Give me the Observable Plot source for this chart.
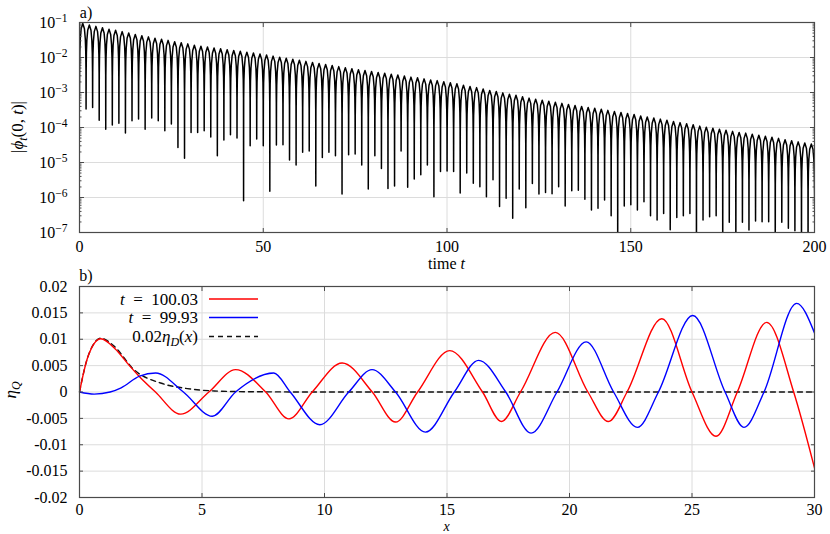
<!DOCTYPE html>
<html><head><meta charset="utf-8">
<script src="https://cdn.jsdelivr.net/npm/d3@7"></script>
<script src="https://cdn.jsdelivr.net/npm/@observablehq/plot@0.6"></script>
<style>
body{margin:0;background:#fff;}
#chart{width:830px;height:534px;position:relative;background:#fff;}
#chart svg{display:block;overflow:visible;}
</style></head><body><div id="chart"></div>
<script>
// ---------- Panel a) data ----------
// times of the zeros (dips) of phi_t(0,t)
const dipTime = [0,1.79,3.57,5.36,7.14,8.93,10.72,12.50,14.29,16.07,17.86,19.65,21.43,23.22,25.00,26.79,28.58,30.36,32.15,33.93,35.72,37.51,39.29,41.08,42.86,44.65,46.44,48.22,50.01,51.79,53.58,55.37,57.15,58.94,60.72,62.51,64.30,66.08,67.87,69.65,71.44,73.23,75.01,76.80,78.58,80.37,82.16,83.94,85.73,87.51,89.30,91.09,92.87,94.66,96.44,98.23,100.02,101.80,103.59,105.37,107.16,108.95,110.73,112.52,114.30,116.09,117.88,119.66,121.45,123.23,125.02,126.81,128.59,130.38,132.16,133.95,135.74,137.52,139.31,141.09,142.88,144.67,146.45,148.24,150.02,151.81,153.60,155.38,157.17,158.95,160.74,162.53,164.31,166.10,167.88,169.67,171.46,173.24,175.03,176.81,178.60,180.39,182.17,183.96,185.74,187.53,189.32,191.10,192.89,194.67,196.46,198.25,200.03];
// log10 of the sampled minimum at each dip
const dipLog10 = [-3.0,
 -3.47,-3.43,-3.79,-4.05,-3.93,-3.88,-4.16,-3.81,-3.76,-4.05,
 -3.73,-3.81,-4.09,-3.90,-4.57,-4.88,-4.14,-4.14,-4.09,-4.27,
 -4.81,-4.36,-4.21,-4.30,-6.09,-4.52,-4.33,-4.52,-5.82,-4.50,
 -4.49,-4.93,-5.07,-4.71,-4.67,-5.67,-4.86,-4.71,-4.81,-5.90,
 -4.78,-4.76,-5.07,-5.76,-4.81,-5.17,-5.74,-5.67,-4.67,-5.71,
 -5.47,-5.35,-5.07,-5.98,-5.26,-5.24,-5.26,-5.87,-5.30,-5.59,
 -5.69,-5.98,-5.49,-6.26,-6.02,-6.59,-5.76,-6.29,-5.60,-5.90,
 -5.86,-5.89,-5.69,-6.24,-5.81,-5.79,-6.05,-6.36,-6.31,-6.07,
 -6.52,-7.50,-6.24,-6.21,-6.36,-6.12,-6.52,-6.64,-6.46,-6.92,
 -6.57,-6.52,-6.46,-7.50,-6.64,-6.55,-6.52,-7.50,-6.71,-7.50,
 -6.71,-6.93,-6.67,-6.69,-6.69,-7.50,-6.71,-6.88,-6.95,-7.50,
 -7.50,-6.0];
// log10 of the top of each arch between two dips
const peakLog10 = [
 -1.03,-1.07,-1.11,-1.15,-1.19,-1.22,-1.26,-1.30,-1.34,-1.38,
 -1.41,-1.45,-1.48,-1.51,-1.55,-1.58,-1.61,-1.65,-1.68,
 -1.70,-1.73,-1.75,-1.78,-1.80,-1.82,-1.85,-1.87,-1.90,
 -1.93,-1.96,-1.99,-2.02,-2.05,-2.08,-2.11,-2.14,-2.17,-2.20,-2.23,-2.26,-2.29,-2.32,
 -2.35,-2.37,-2.40,-2.43,-2.45,-2.48,-2.50,-2.53,-2.56,-2.58,-2.61,-2.64,-2.66,-2.69,
 -2.72,-2.75,-2.79,-2.83,-2.86,-2.90,-2.94,-2.97,-3.01,-3.05,-3.08,-3.12,-3.16,-3.19,
 -3.22,-3.25,-3.28,-3.31,-3.34,-3.37,-3.40,-3.43,-3.45,-3.48,-3.51,-3.54,-3.57,-3.60,
 -3.63,-3.67,-3.70,-3.73,-3.76,-3.79,-3.83,-3.86,-3.89,-3.92,-3.96,-3.99,
 -4.02,-4.05,-4.08,-4.11,-4.14,-4.16,-4.19,-4.22,-4.25,-4.28,-4.31,
 -4.35,-4.38,-4.41,-4.44,-4.47];
// shape of one arch (position within the arch, height relative to its top)
const archFrac  = [0.015,0.05,0.12,0.25,0.5,0.75,0.88,0.95,0.985];
const archShape = [0.047,0.156,0.368,0.707,1,0.707,0.368,0.156,0.047];
const xTicksTop = [0,50,100,150,200];
const yTicksTop = [1e-7,1e-6,1e-5,1e-4,1e-3,1e-2,1e-1];
const yTickLabelsTop = ["10^−7","10^−6","10^−5","10^−4","10^−3","10^−2","10^−1"];

// ---------- Panel b) data ----------
const redX  = [0,0.33,0.87,1.45,2.02,2.43,3.1,4.13,5.28,6.37,7.6,8.55,9.5,10.72,11.95,12.9,13.8,15.11,16.45,17.22,18.0,19.42,20.75,21.59,22.35,23.77,25.0,25.98,26.85,28.05,29.15,30];
const redY  = [0,0.0065,0.0101,0.0082,0.0051,0.003,0,-0.0042,0,0.00425,0,-0.0051,0,0.0055,0,-0.0057,0,0.00785,0,-0.0056,0,0.0113,0,-0.0056,0,0.0139,0,-0.0084,0,0.0132,0,-0.0144];
const blueX = [0,0.6,1.25,1.7,2.45,3.11,4.24,5.42,6.37,7.93,8.6,9.81,10.99,11.94,12.9,14.12,15.3,16.29,17.4,18.43,19.49,20.68,21.8,22.77,23.63,25.03,26.35,27.12,27.94,29.27,30];
const blueY = [0,-0.0004,0,0.0008,0.003,0.0036,0,-0.0046,0,0.0036,0,-0.0062,0,0.00425,0,-0.0076,0,0.006,0,-0.0078,0,0.0095,0,-0.0067,0,0.0145,0,-0.0067,0,0.0168,0.0112];
const blackX = [0,0.33,0.87,1.41,2.23,3.31,4.4,5.5,7,10,30];
const blackY = [0,0.0065,0.0102,0.0087,0.0042,0.0017,0.00065,0.0002,0.00005,0,0];
const xTicksBot = [0,5,10,15,20,25,30];
const yTicksBot = [-0.02,-0.015,-0.01,-0.005,0,0.005,0.01,0.015,0.02];
const legendLabels = [["t","\u2002=\u2002100.03"],["t","\u2002=\u200299.93"],["0.02","η","D","(x)"]];

// ---------- build tables ----------
const phi = [];
for (let k = 0; k < dipTime.length; k++) {
  phi.push({t: dipTime[k], v: 10 ** dipLog10[k]});
  if (k + 1 < dipTime.length) {
    const t0 = dipTime[k], t1 = dipTime[k + 1], A = 10 ** peakLog10[k];
    archFrac.forEach((f, i) => phi.push({t: t0 + f * (t1 - t0), v: A * archShape[i]}));
  }
}
const yMinorTop = [];
yTicksTop.slice(0, -1).forEach(d => { for (let m = 2; m <= 9; m++) yMinorTop.push(d * m); });
const red = redX.map((x, i) => ({x, y: redY[i]}));
const blue = blueX.map((x, i) => ({x, y: blueY[i]}));
const black = blackX.map((x, i) => ({x, y: blackY[i]}));

const FONT = "'Liberation Serif', 'Times New Roman', serif";
const GRID = "#dcdcdc", FRAME = "#4a4a4a";
const blank = () => "";

// ---------- panel a ----------
const topPlot = Plot.plot({
  width: 830, height: 268,
  marginLeft: 79, marginRight: 16, marginTop: 22, marginBottom: 36,
  style: {fontFamily: FONT, fontSize: "16px", color: "#000", overflow: "visible"},
  x: {domain: [0, 200], label: null},
  y: {type: "log", domain: [1e-7, 1e-1], label: null},
  marks: [
    Plot.gridX(xTicksTop, {stroke: GRID, strokeOpacity: 1}),
    Plot.gridY(yTicksTop, {stroke: GRID, strokeOpacity: 1}),
    Plot.line(phi, {x: "t", y: "v", stroke: "#000", strokeWidth: 1.5, clip: true}),
    Plot.axisX(xTicksTop, {anchor: "bottom", tickSize: 0, tickPadding: 8.5}),
    Plot.axisX(xTicksTop, {anchor: "bottom", tickSize: -4, tickFormat: blank, stroke: FRAME}),
    Plot.axisX(xTicksTop, {anchor: "top", tickSize: -4, tickFormat: blank, stroke: FRAME}),
    Plot.axisY(yTicksTop, {anchor: "left", tickSize: 0, tickPadding: 12,
      tickFormat: d => yTickLabelsTop[yTicksTop.indexOf(d)]}),
    Plot.axisY(yTicksTop, {anchor: "left", tickSize: -5, tickFormat: blank, stroke: FRAME}),
    Plot.axisY(yTicksTop, {anchor: "right", tickSize: -5, tickFormat: blank, stroke: FRAME}),
    Plot.axisY(yMinorTop, {anchor: "left", tickSize: -2.5, tickFormat: blank, stroke: FRAME}),
    Plot.axisY(yMinorTop, {anchor: "right", tickSize: -2.5, tickFormat: blank, stroke: FRAME}),
    Plot.frame({stroke: FRAME, strokeWidth: 1.2})
  ]
});
// superscripts on log tick labels
d3.select(topPlot).selectAll('g[aria-label="y-axis tick label"] text').each(function() {
  const s = this.textContent; const parts = s.split("^");
  if (parts.length === 2) {
    const el = d3.select(this); el.text(parts[0]);
    el.append("tspan").attr("dy", "-0.5em").attr("font-size", "0.72em").text(parts[1]);
  }
});
const ts = d3.select(topPlot);
ts.append("text").attr("x", 86).attr("y", 12).attr("dy", "0.35em")
  .attr("font-family", FONT).attr("font-size", 16).text("a)");
const tl = ts.append("text").attr("x", 446.5).attr("y", 268.5)
  .attr("text-anchor", "middle").attr("font-family", FONT).attr("font-size", 16);
tl.append("tspan").text("time ");
tl.append("tspan").attr("font-style", "italic").text("t");
const yl = ts.append("text").attr("transform", "translate(17,127) rotate(-90)").attr("dy", "0.35em")
  .attr("text-anchor", "middle").attr("font-family", FONT).attr("font-size", 17);
yl.append("tspan").text("|");
yl.append("tspan").attr("font-style", "italic").text("ϕ");
yl.append("tspan").attr("font-style", "italic").attr("font-size", 12).attr("dy", "4").text("t");
yl.append("tspan").attr("dy", "-4").text("(0, ");
yl.append("tspan").attr("font-style", "italic").text("t");
yl.append("tspan").text(")|");

// ---------- panel b ----------
const botPlot = Plot.plot({
  width: 830, height: 266,
  marginLeft: 79, marginRight: 16, marginTop: 18, marginBottom: 37,
  style: {fontFamily: FONT, fontSize: "16px", color: "#000", overflow: "visible"},
  x: {domain: [0, 30], label: null},
  y: {domain: [-0.02, 0.02], label: null},
  marks: [
    Plot.gridX(xTicksBot, {stroke: GRID, strokeOpacity: 1}),
    Plot.gridY(yTicksBot, {stroke: GRID, strokeOpacity: 1}),
    Plot.line(black, {x: "x", y: "y", stroke: "#111", strokeWidth: 1.4, strokeDasharray: "5,4", curve: "monotone-x"}),
    Plot.line(red, {x: "x", y: "y", stroke: "#ff0000", strokeWidth: 1.4, curve: "monotone-x", clip: true}),
    Plot.line(blue, {x: "x", y: "y", stroke: "#0000ff", strokeWidth: 1.4, curve: "monotone-x", clip: true}),
    Plot.axisX(xTicksBot, {anchor: "bottom", tickSize: 0, tickPadding: 6.5}),
    Plot.axisX(xTicksBot, {anchor: "bottom", tickSize: -4, tickFormat: blank, stroke: FRAME}),
    Plot.axisX(xTicksBot, {anchor: "top", tickSize: -4, tickFormat: blank, stroke: FRAME}),
    Plot.axisY(yTicksBot, {anchor: "left", tickSize: 0, tickPadding: 12,
      tickFormat: d => d === 0 ? "0" : String(+d.toFixed(3))}),
    Plot.axisY(yTicksBot, {anchor: "left", tickSize: -4, tickFormat: blank, stroke: FRAME}),
    Plot.axisY(yTicksBot, {anchor: "right", tickSize: -4, tickFormat: blank, stroke: FRAME}),
    Plot.frame({stroke: FRAME, strokeWidth: 1.2})
  ]
});
const bs = d3.select(botPlot);
bs.append("text").attr("x", 86).attr("y", 7).attr("dy", "0.35em")
  .attr("font-family", FONT).attr("font-size", 16).text("b)");
bs.append("text").attr("x", 446.5).attr("y", 262.8)
  .attr("text-anchor", "middle").attr("font-family", FONT).attr("font-size", 14)
  .attr("font-style", "italic").text("x");
const el = bs.append("text").attr("transform", "translate(10,122) rotate(-90)").attr("dy", "0.35em")
  .attr("text-anchor", "middle").attr("font-family", FONT).attr("font-size", 17);
el.append("tspan").attr("font-style", "italic").text("η");
el.append("tspan").attr("font-style", "italic").attr("font-size", 12).attr("dy", "4").text("Q");
// legend
const legendColors = ["#ff0000", "#0000ff", "#111"];
const legendDash = [null, null, "5,4"];
const rowsY = [31, 49.5, 68.5];
legendLabels.forEach((lab, i) => {
  const t = bs.append("text").attr("x", 198).attr("y", rowsY[i]).attr("dy", "0.35em")
    .attr("text-anchor", "end").attr("font-family", FONT).attr("font-size", 17);
  if (i < 2) {
    t.append("tspan").attr("font-style", "italic").text(lab[0]);
    t.append("tspan").text(lab[1]);
  } else {
    t.append("tspan").text(lab[0]);
    t.append("tspan").attr("font-style", "italic").text(lab[1]);
    t.append("tspan").attr("font-style", "italic").attr("font-size", 12).attr("dy", "4").text(lab[2]);
    t.append("tspan").attr("dy", "-4").text("(");
    t.append("tspan").attr("font-style", "italic").text("x");
    t.append("tspan").text(")");
  }
  bs.append("line").attr("x1", 209).attr("x2", 258).attr("y1", rowsY[i]).attr("y2", rowsY[i])
    .attr("stroke", legendColors[i]).attr("stroke-width", 1.4)
    .attr("stroke-dasharray", legendDash[i]);
});

const chart = document.getElementById("chart");
chart.appendChild(topPlot);
chart.appendChild(botPlot);
</script></body></html>
